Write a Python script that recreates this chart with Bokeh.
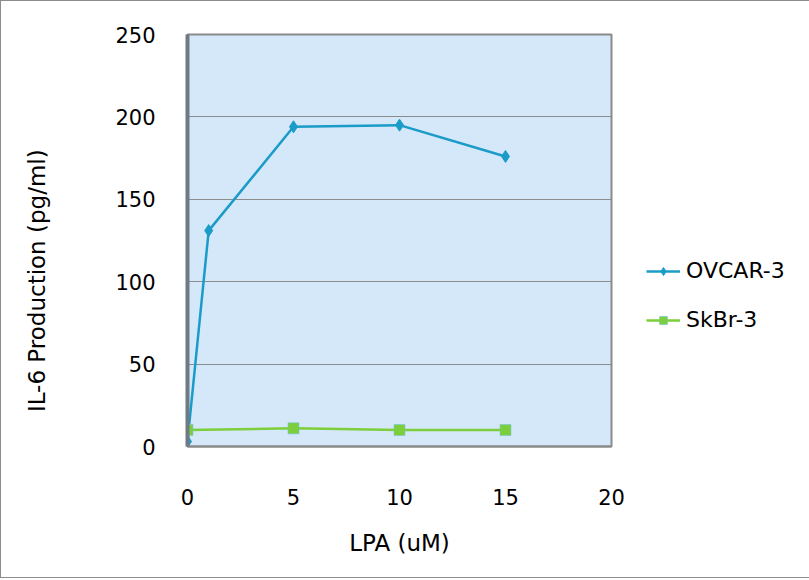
from bokeh.plotting import figure
from bokeh.models import Legend, LegendItem, FixedTicker, Range1d
from bokeh.embed import file_html
from bokeh.resources import INLINE

lpa_ovcar = [0, 1, 5, 10, 15]
il6_ovcar = [3, 131, 194, 195, 176]
lpa_skbr = [0, 5, 10, 15]
il6_skbr = [10, 11, 10, 10]
x_ticks = [0, 5, 10, 15, 20]
y_ticks = [0, 50, 100, 150, 200, 250]

FONT = "DejaVu Sans"

p = figure(frame_width=424, frame_height=412, output_backend="svg", toolbar_location=None,
           x_range=Range1d(0, 20), y_range=Range1d(0, 250),
           min_border_left=186, min_border_right=195, min_border_top=33, min_border_bottom=131)
p.styles = {"border": "1px solid #8c8c8c"}
p.background_fill_color = "#d5e8fa"
p.border_fill_color = "white"
p.outline_line_color = "#8a8a8a"
p.outline_line_width = 2

p.xgrid.visible = False
p.ygrid.grid_line_color = "#8c8c8c"
p.ygrid.grid_line_width = 1

p.xaxis.ticker = FixedTicker(ticks=x_ticks)
p.yaxis.ticker = FixedTicker(ticks=y_ticks)
for ax in (p.xaxis[0], p.yaxis[0]):
    ax.major_tick_line_color = None
    ax.minor_tick_line_color = None
    ax.major_label_text_font = FONT
    ax.major_label_text_font_size = "21px"
    ax.major_label_text_color = "black"
    ax.axis_label_text_font = FONT
    ax.axis_label_text_font_size = "23px"
    ax.axis_label_text_font_style = "normal"
    ax.axis_label_text_color = "black"
p.yaxis.axis_line_color = "#6f7a84"
p.yaxis.axis_line_width = 4
p.xaxis.axis_line_color = "#8a8a8a"
p.xaxis.axis_line_width = 2
p.yaxis.major_label_standoff = 26
p.xaxis.major_label_standoff = 36
p.xaxis.axis_label = "LPA (uM)"
p.yaxis.axis_label = "IL-6 Production (pg/ml)" + "\u00a0" * 11
p.xaxis.axis_label_standoff = 22
p.yaxis.axis_label_standoff = 62

c1 = "#1a9bc8"
c2 = "#7ccf3a"
l1 = p.line(lpa_ovcar, il6_ovcar, line_color=c1, line_width=2.5)
m1 = p.scatter(lpa_ovcar, il6_ovcar, marker="diamond", size=12, fill_color=c1, line_color=c1)
l2 = p.line(lpa_skbr, il6_skbr, line_color=c2, line_width=2.5)
m2 = p.scatter(lpa_skbr, il6_skbr, marker="square", size=11, fill_color=c2, line_color="#6cc0e0", line_width=0.5)

legend = Legend(items=[LegendItem(label="OVCAR-3", renderers=[l1, m1]),
                       LegendItem(label="SkBr-3", renderers=[l2, m2])],
                location=(35, 114), orientation="vertical",
                label_text_font=FONT, label_text_font_size="22px", label_text_color="black",
                border_line_color=None, background_fill_alpha=0,
                spacing=24, glyph_width=34, label_standoff=6, padding=5, margin=0)
p.add_layout(legend, "right")

open("out.html", "w").write(file_html(p, INLINE))
